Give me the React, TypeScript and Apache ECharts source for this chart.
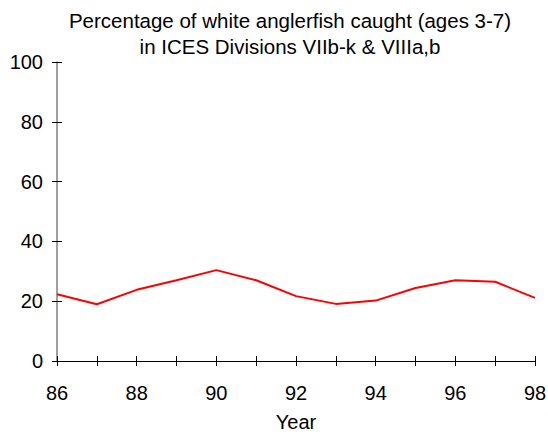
import React, { useEffect, useRef } from "react";
import * as echarts from "echarts";

const years = [86, 87, 88, 89, 90, 91, 92, 93, 94, 95, 96, 97, 98];
const percentCaught = [22.3, 19.0, 23.8, 27.0, 30.4, 27.0, 21.7, 19.1, 20.2, 24.4, 27.0, 26.5, 21.1];
const titleLines = ["Percentage of white anglerfish caught (ages 3-7)", "in ICES Divisions VIIb-k & VIIIa,b"];
const xAxisName = "Year";

export default function App() {
  const ref = useRef<HTMLDivElement>(null);
  useEffect(() => {
    if (!ref.current) return;
    const chart = echarts.init(ref.current, null, { renderer: "svg" });
    const font = "Liberation Sans, Arial, sans-serif";
    const data = years.map((y, i) => [y, percentCaught[i]]);
    const xBase = {
      type: "value" as const,
      min: 86,
      max: 98,
      interval: 1,
      splitLine: { show: false },
    };
    const yBase = {
      type: "value" as const,
      min: 0,
      max: 100,
      interval: 20,
      splitLine: { show: false },
    };
    chart.setOption({
      animation: false,
      backgroundColor: "#ffffff",
      title: {
        text: titleLines.join("\n"),
        left: 290,
        top: 7,
        padding: 0,
        textAlign: "center",
        textStyle: {
          fontFamily: font,
          fontSize: 20.5,
          fontWeight: "normal",
          color: "#000",
          lineHeight: 26,
        },
      },
      grid: {
        left: 57,
        right: 13,
        top: 62,
        bottom: 73,
        containLabel: false,
        outerBoundsMode: "none",
      },
      xAxis: [
        {
          ...xBase,
          position: "bottom",
          axisLine: { lineStyle: { color: "#000", width: 1 } },
          axisTick: { show: true, length: 5, lineStyle: { color: "#000" } },
          axisLabel: {
            fontFamily: font,
            fontSize: 20,
            color: "#000",
            margin: 22,
            formatter: (v: number) => (v % 2 === 0 ? String(v) : ""),
          },
          name: xAxisName,
          nameLocation: "middle",
          nameGap: 51,
          nameTextStyle: { fontFamily: font, fontSize: 20, color: "#000", lineHeight: 20 },
        },
        {
          ...xBase,
          position: "bottom",
          gridIndex: 0,
          axisLine: { show: false },
          axisTick: { show: true, inside: true, length: 5, lineStyle: { color: "#000" } },
          axisLabel: { show: false },
        },
      ],
      yAxis: [
        {
          ...yBase,
          position: "left",
          axisLine: { show: true, lineStyle: { color: "#808080", width: 1.5 } },
          axisTick: { show: true, length: 5, lineStyle: { color: "#000" } },
          axisLabel: { fontFamily: font, fontSize: 20, color: "#000", margin: 14 },
        },
        {
          ...yBase,
          position: "left",
          gridIndex: 0,
          axisLine: { show: false },
          axisTick: { show: true, inside: true, length: 5, lineStyle: { color: "#000" } },
          axisLabel: { show: false },
        },
      ],
      series: [
        {
          type: "line",
          data,
          xAxisIndex: 0,
          yAxisIndex: 0,
          symbol: "none",
          lineStyle: { color: "#ff0000", width: 2 },
        },
      ],
    });
    return () => chart.dispose();
  }, []);
  return (
    <div
      ref={ref}
      style={{ position: "fixed", left: 0, top: 0, width: 548, height: 434 }}
    />
  );
}
